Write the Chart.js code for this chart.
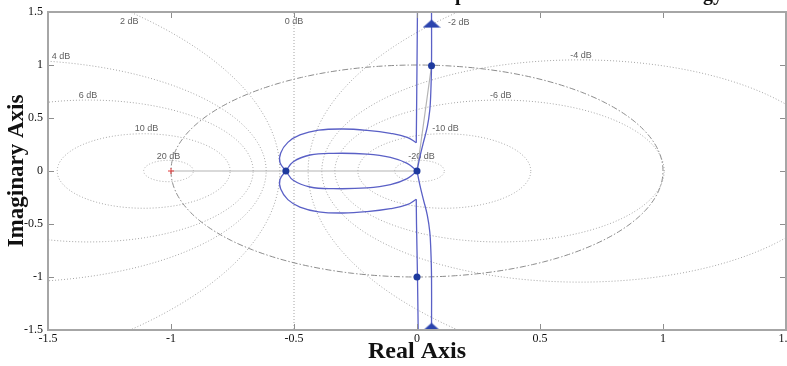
<!DOCTYPE html>
<html>
<head>
<meta charset="utf-8">
<script src="https://cdn.jsdelivr.net/npm/chart.js@4.4.1/dist/chart.umd.min.js"></script>
<style>
html, body { margin: 0; padding: 0; background: #fff; }
#wrap { width: 787px; height: 366px; }
</style>
</head>
<body>
<div id="wrap"><canvas id="nyquistChart" width="787" height="366"></canvas></div>
<script>
// ==========================================
// DATA
// ==========================================
var xTicks = [-1.5, -1, -0.5, 0, 0.5, 1, 1.5];
var yTicks = [-1.5, -1, -0.5, 0, 0.5, 1, 1.5];

// M-circle grid (closed-loop magnitude in dB) and where their labels sit
var mCircleDb  = [20, 10, 6, 4, 2, 0, -2, -4, -6, -10, -20];
var mLabelText = ['20 dB', '10 dB', '6 dB', '4 dB', '2 dB', '0 dB', '-2 dB', '-4 dB', '-6 dB', '-10 dB', '-20 dB'];
var mLabelX    = [-1.01, -1.10, -1.337, -1.447, -1.17, -0.5, 0.17, 0.667, 0.34, 0.116, 0.018];
var mLabelY    = [0.14, 0.40, 0.71, 1.08, 1.41, 1.41, 1.40, 1.09, 0.71, 0.40, 0.14];

// left vertical branches (plot edge -> kink)
var leftUpX   = [0.002, 0.0, -0.002, -0.003];
var leftUpY   = [1.55, 1.0, 0.5, 0.267];
var leftDownX = [-0.003, -0.002, 0.002, 0.005];
var leftDownY = [-0.267, -0.5, -1.0, -1.55];

// outer loop (kink -> crossing point at -0.533)
var outerUpX   = [-0.003, -0.04, -0.108, -0.203, -0.30, -0.40, -0.476, -0.525, -0.554, -0.557, -0.533];
var outerUpY   = [0.267, 0.318, 0.355, 0.383, 0.396, 0.385, 0.34, 0.27, 0.17, 0.08, 0];
var outerDownX = [-0.533, -0.557, -0.554, -0.525, -0.476, -0.40, -0.30, -0.203, -0.108, -0.04, -0.003];
var outerDownY = [0, -0.08, -0.17, -0.27, -0.34, -0.385, -0.396, -0.383, -0.355, -0.318, -0.267];

// inner loop (crossing point -> origin)
var innerUpX   = [-0.533, -0.503, -0.435, -0.34, -0.203, -0.108, -0.04, 0];
var innerUpY   = [0, 0.088, 0.151, 0.167, 0.16, 0.129, 0.072, 0];
var innerDownX = [-0.533, -0.503, -0.435, -0.34, -0.203, -0.108, -0.04, 0];
var innerDownY = [0, -0.088, -0.151, -0.167, -0.16, -0.129, -0.072, 0];

// right branches (origin -> plot edge)
var rightUpX   = [0, 0.012, 0.025, 0.042, 0.052, 0.056, 0.059, 0.059];
var rightUpY   = [0, 0.135, 0.26, 0.418, 0.575, 0.733, 0.993, 1.55];
var rightDownX = [0, 0.012, 0.025, 0.042, 0.052, 0.056, 0.059, 0.059];
var rightDownY = [0, -0.135, -0.26, -0.418, -0.575, -0.733, -0.993, -1.55];

// markers
var dotX   = [-0.533, 0, 0.059, 0];
var dotY   = [0, 0, 0.993, -1.0];
var arrowX = [0.059, 0.059];
var arrowY = [1.39, -1.47];
var guideX = [-1, 0, 0.059];
var guideY = [0, 0, 0.993];

var titleText = 'Nominal loop for the whole control strategy';

// ==========================================
// HELPERS
// ==========================================
var SERIF = '"Liberation Serif", "Times New Roman", serif';
var SANS = '"Liberation Sans", Arial, sans-serif';
var CURVE = '#5a60c6';

function zip(xs, ys) {
    return xs.map(function(x, i) { return { x: x, y: ys[i] }; });
}

function fmt(v) {
    return String(Math.round(v * 10) / 10);
}

// M-circle: centre -M^2/(M^2-1), radius |M/(M^2-1)|
function mCircle(db) {
    var m = Math.pow(10, db / 20);
    if (db === 0) return [{ x: -0.5, y: -2 }, { x: -0.5, y: 2 }];
    var c = -m * m / (m * m - 1), r = Math.abs(m / (m * m - 1)), pts = [];
    for (var k = 0; k <= 360; k++) {
        var a = k * Math.PI / 180;
        pts.push({ x: c + r * Math.cos(a), y: r * Math.sin(a) });
    }
    return pts;
}

function unitCircle() {
    var pts = [];
    for (var k = 0; k <= 360; k++) {
        var a = k * Math.PI / 180;
        pts.push({ x: Math.cos(a), y: Math.sin(a) });
    }
    return pts;
}

function curve(xs, ys) {
    return { data: zip(xs, ys), showLine: true, borderColor: CURVE, borderWidth: 1.3,
             pointRadius: 0, tension: 0.4 };
}

// flat arrow head used as point style
var arrowImg = document.createElement('canvas');
arrowImg.width = 18; arrowImg.height = 9;
(function() {
    var c = arrowImg.getContext('2d');
    c.fillStyle = '#2b44ae';
    c.beginPath(); c.moveTo(0, 8.5); c.lineTo(9, 0.5); c.lineTo(18, 8.5); c.closePath(); c.fill();
})();

// ==========================================
// DATASETS (first one is drawn on top)
// ==========================================
var datasets = [];
datasets.push({ data: zip(arrowX, arrowY), pointStyle: arrowImg, pointRadius: 9 });
datasets.push({ data: zip(dotX, dotY), pointRadius: 3.5, backgroundColor: '#1e3a9e', borderWidth: 0 });
datasets.push(curve(leftUpX, leftUpY));
datasets.push(curve(leftDownX, leftDownY));
datasets.push(curve(outerUpX, outerUpY));
datasets.push(curve(outerDownX, outerDownY));
datasets.push(curve(innerUpX, innerUpY));
datasets.push(curve(innerDownX, innerDownY));
datasets.push(curve(rightUpX, rightUpY));
datasets.push(curve(rightDownX, rightDownY));
datasets.push({ data: [{ x: -1, y: 0 }], pointStyle: 'cross', pointRadius: 3,
                borderColor: '#e03a3a', borderWidth: 1 });
datasets.push({ data: zip(guideX, guideY), showLine: true, borderColor: '#b4b4b4',
                borderWidth: 1.2, pointRadius: 0, tension: 0 });
datasets.push({ data: unitCircle(), showLine: true, borderColor: '#8c8c8c', borderWidth: 1,
                borderDash: [6, 2, 1.5, 2], pointRadius: 0, tension: 0 });
mCircleDb.forEach(function(db) {
    datasets.push({ data: mCircle(db), showLine: true, borderColor: '#a4a4a4', borderWidth: 1,
                    borderDash: [1, 2], pointRadius: 0, tension: 0 });
});

// ==========================================
// PLUGIN: frame, inner ticks, dB labels, title
// ==========================================
var decorPlugin = {
    id: 'decor',
    beforeDatasetsDraw: function(chart) {
        var ctx = chart.ctx, xs = chart.scales.x, ys = chart.scales.y, a = chart.chartArea;
        ctx.save();
        ctx.beginPath(); ctx.rect(a.left, a.top, a.right - a.left, a.bottom - a.top); ctx.clip();
        ctx.font = '9px ' + SANS;
        ctx.fillStyle = '#5e5e5e';
        ctx.textAlign = 'center';
        ctx.textBaseline = 'middle';
        mLabelText.forEach(function(t, i) {
            ctx.fillText(t, xs.getPixelForValue(mLabelX[i]), ys.getPixelForValue(mLabelY[i]));
        });
        ctx.restore();
    },
    afterDraw: function(chart) {
        var ctx = chart.ctx, xs = chart.scales.x, ys = chart.scales.y, a = chart.chartArea;
        ctx.save();
        ctx.strokeStyle = '#8e8e8e';
        ctx.lineWidth = 1;
        ctx.beginPath();
        xTicks.forEach(function(v) {
            var px = Math.round(xs.getPixelForValue(v)) + 0.5;
            ctx.moveTo(px, a.bottom); ctx.lineTo(px, a.bottom - 6);
            ctx.moveTo(px, a.top); ctx.lineTo(px, a.top + 6);
        });
        yTicks.forEach(function(v) {
            var py = Math.round(ys.getPixelForValue(v)) + 0.5;
            ctx.moveTo(a.left, py); ctx.lineTo(a.left + 6, py);
            ctx.moveTo(a.right, py); ctx.lineTo(a.right - 6, py);
        });
        ctx.stroke();
        ctx.strokeStyle = '#a6a6a6';
        ctx.lineWidth = 2;
        ctx.strokeRect(a.left, a.top, a.right - a.left, a.bottom - a.top);

        // title, cut off by the top edge like in the source
        ctx.font = 'bold 20px ' + SERIF;
        ctx.fillStyle = '#111';
        ctx.textAlign = 'right';
        ctx.textBaseline = 'alphabetic';
        ctx.fillText(titleText, 723, 0);
        ctx.restore();
    }
};

// ==========================================
// CHART
// ==========================================
new Chart(document.getElementById('nyquistChart').getContext('2d'), {
    type: 'scatter',
    data: { datasets: datasets },
    plugins: [decorPlugin],
    options: {
        responsive: false,
        animation: false,
        layout: { autoPadding: false, padding: { top: 12, right: 1, left: 0, bottom: 0 } },
        plugins: { legend: { display: false }, tooltip: { enabled: false } },
        scales: {
            x: {
                type: 'linear', min: -1.5, max: 1.5,
                afterBuildTicks: function(s) { s.ticks = xTicks.map(function(v) { return { value: v }; }); },
                afterFit: function(s) { s.height = 36; s.paddingLeft = 0; s.paddingRight = 0; },
                grid: { display: false, drawTicks: false },
                border: { display: false },
                ticks: { autoSkip: false, maxRotation: 0, padding: 2, color: '#111',
                         font: { family: SERIF, size: 12 }, callback: fmt },
                title: { display: true, text: 'Real Axis', color: '#111', padding: 0,
                         font: { family: SERIF, size: 24, weight: 'bold' } }
            },
            y: {
                type: 'linear', min: -1.5, max: 1.5,
                afterBuildTicks: function(s) { s.ticks = yTicks.map(function(v) { return { value: v }; }); },
                afterFit: function(s) { s.width = 48; s.paddingTop = 0; s.paddingBottom = 0; },
                grid: { display: false, drawTicks: false },
                border: { display: false },
                ticks: { autoSkip: false, padding: 5, color: '#111',
                         font: { family: SERIF, size: 12 }, callback: fmt },
                title: { display: true, text: 'Imaginary Axis', color: '#111', padding: { top: 3, bottom: 0 },
                         font: { family: SERIF, size: 23, weight: 'bold' } }
            }
        }
    }
});
</script>
</body>
</html>
